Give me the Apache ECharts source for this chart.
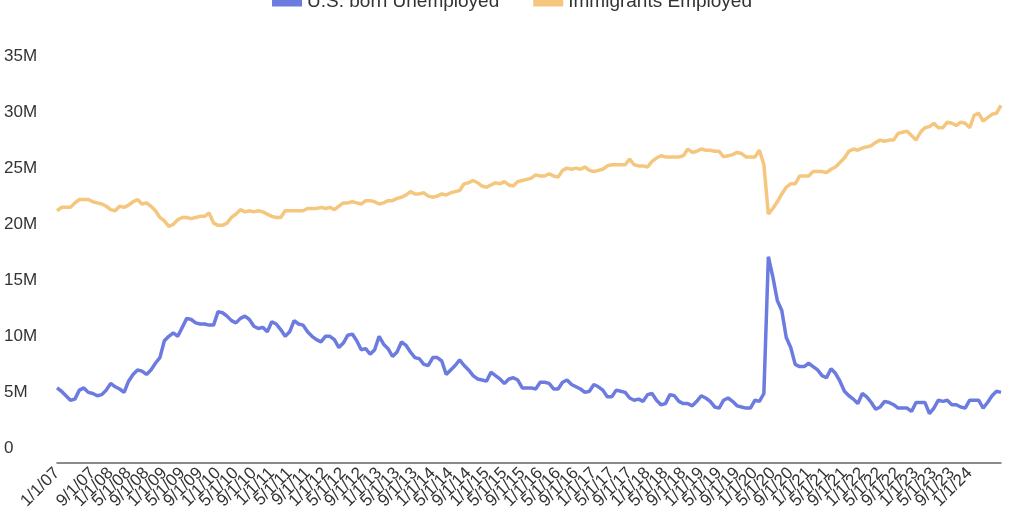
<!DOCTYPE html>
<html><head><meta charset="utf-8">
<script src="https://cdn.jsdelivr.net/npm/echarts@6/dist/echarts.min.js"></script>
<style>html,body{margin:0;padding:0;background:#fff}#c{width:1024px;height:512px}</style>
</head><body><div id="c"></div>
<script>
const startYear = 2007, nMonths = 212;
const categories = [];
for (let i = 0; i < nMonths; i++) {
  const m = i % 12 + 1, y = startYear + Math.floor(i / 12);
  categories.push(m + '/1/' + String(y).slice(2));
}
const usBornUnemployed = [
5.4,5.1,4.7,4.3,4.4,5.2,5.4,5.0,4.9,4.7,4.8,5.2,
5.8,5.5,5.3,5.0,6.0,6.6,7.0,6.9,6.6,7.0,7.6,8.1,
9.6,10.0,10.3,10.0,10.8,11.6,11.5,11.2,11.1,11.1,11.0,11.0,
12.2,12.1,11.8,11.4,11.2,11.6,11.8,11.5,10.9,10.7,10.8,10.4,
11.3,11.1,10.6,10.0,10.4,11.4,11.1,11.0,10.4,10.0,9.7,9.5,
10.0,10.0,9.7,9.0,9.4,10.1,10.2,9.6,8.8,8.9,8.4,8.8,
10.0,9.3,8.9,8.2,8.6,9.5,9.2,8.6,8.1,8.0,7.5,7.4,
8.1,8.1,7.8,6.6,7.0,7.4,7.9,7.4,7.0,6.5,6.2,6.1,
6.0,6.8,6.5,6.2,5.8,6.2,6.3,6.1,5.4,5.4,5.4,5.3,
5.9,5.9,5.8,5.3,5.3,5.9,6.1,5.7,5.5,5.3,5.0,5.1,
5.7,5.5,5.2,4.6,4.6,5.2,5.1,5.0,4.5,4.3,4.4,4.2,
4.8,4.9,4.3,3.9,4.0,4.8,4.7,4.2,4.0,4.0,3.8,4.2,
4.7,4.5,4.2,3.7,3.6,4.3,4.5,4.2,3.8,3.7,3.6,3.6,
4.3,4.2,4.9,17.1,15.3,13.2,12.3,9.9,9.0,7.5,7.3,7.3,
7.6,7.3,7.0,6.5,6.3,7.1,6.7,6.0,5.1,4.7,4.4,4.0,
4.9,4.6,4.1,3.5,3.7,4.2,4.1,3.9,3.6,3.6,3.6,3.3,
4.1,4.1,4.1,3.1,3.6,4.3,4.2,4.3,3.9,3.9,3.7,3.6,
4.3,4.3,4.3,3.6,4.1,4.7,5.1,5.0
];
const immigrantsEmployed = [
21.2,21.5,21.5,21.5,21.9,22.2,22.2,22.2,22.0,21.9,21.8,21.6,
21.3,21.2,21.6,21.5,21.7,22.0,22.2,21.8,21.9,21.6,21.2,20.6,
20.3,19.8,20.0,20.4,20.6,20.6,20.5,20.6,20.7,20.7,21.0,20.1,
19.9,19.9,20.1,20.6,20.9,21.3,21.1,21.2,21.1,21.2,21.1,20.9,
20.7,20.6,20.6,21.2,21.2,21.2,21.2,21.2,21.4,21.4,21.4,21.5,
21.4,21.5,21.3,21.6,21.9,21.9,22.0,21.9,21.8,22.1,22.1,22.0,
21.8,21.9,22.1,22.1,22.3,22.4,22.6,22.9,22.7,22.7,22.8,22.5,
22.4,22.5,22.7,22.6,22.8,22.9,23.0,23.6,23.7,23.9,23.7,23.4,
23.3,23.5,23.7,23.6,23.8,23.5,23.4,23.8,23.9,24.0,24.1,24.4,
24.3,24.3,24.5,24.3,24.2,24.8,25.0,24.9,25.0,24.9,25.1,24.8,
24.7,24.8,24.9,25.2,25.3,25.3,25.3,25.3,25.8,25.3,25.2,25.2,
25.1,25.6,25.9,26.1,26.0,26.0,26.0,26.0,26.1,26.7,26.4,26.5,
26.7,26.6,26.6,26.5,26.5,26.0,26.1,26.2,26.4,26.3,26.0,26.0,
26.0,26.6,25.3,20.9,21.4,22.0,22.7,23.3,23.6,23.6,24.3,24.3,
24.3,24.7,24.7,24.7,24.6,24.9,25.1,25.5,25.9,26.5,26.7,26.6,
26.8,26.9,27.0,27.3,27.5,27.4,27.5,27.5,28.1,28.2,28.3,27.9,
27.5,28.2,28.6,28.7,29.0,28.6,28.6,29.1,29.0,28.8,29.1,29.0,
28.6,29.7,29.9,29.2,29.5,29.8,29.9,30.6
];
const seriesNames = ['U.S. born Unemployed', 'Immigrants Employed'];
const font = "'Liberation Sans', Arial, sans-serif";
const chart = echarts.init(document.getElementById('c'));
chart.setOption({
  animation: false,
  color: ['#6b7be0', '#f5c77e'],
  textStyle: { fontFamily: font },
  legend: {
    top: -13, left: 'center', itemWidth: 30, itemHeight: 10, itemGap: 34,
    icon: 'rect', textStyle: { fontSize: 19, color: '#333', fontFamily: font },
    data: seriesNames
  },
  grid: { left: 57, right: 23, top: 56, bottom: 61 },
  xAxis: {
    type: 'category', data: categories, boundaryGap: false, offset: 14,
    axisLine: { onZero: false, lineStyle: { color: '#666', width: 1.5 } },
    axisTick: { show: false },
    axisLabel: { interval: 3, rotate: 45, fontSize: 17, color: '#333', margin: 8,
      showMinLabel: true, hideOverlap: false, fontFamily: font }
  },
  yAxis: {
    type: 'value', min: 0, max: 35, interval: 5,
    splitLine: { show: false }, axisLine: { show: false }, axisTick: { show: false },
    axisLabel: { align: 'left', margin: 53, fontSize: 17, color: '#333', fontFamily: font,
      formatter: v => v === 0 ? '0' : v + 'M' }
  },
  series: [
    { name: seriesNames[0], type: 'line', data: usBornUnemployed, showSymbol: false, lineStyle: { width: 3.5 } },
    { name: seriesNames[1], type: 'line', data: immigrantsEmployed, showSymbol: false, lineStyle: { width: 3.5 } }
  ]
});
</script></body></html>
